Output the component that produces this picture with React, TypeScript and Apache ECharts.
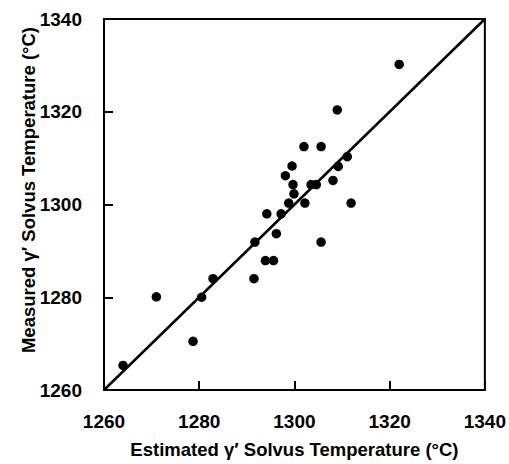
import React, { useEffect, useRef } from "react";
import * as echarts from "echarts";

const estimated = [1322, 1309, 1302, 1305.6, 1311.1, 1309.2, 1299.5, 1298.1, 1308.1, 1299.7, 1303.5, 1304.6, 1299.9, 1298.8, 1302.2, 1311.9, 1294.2, 1297.2, 1296.2, 1291.7, 1305.6, 1293.9, 1295.6, 1291.5, 1282.9, 1271, 1280.5, 1278.7, 1264];
const measured = [1330.2, 1320.4, 1312.5, 1312.5, 1310.3, 1308.2, 1308.3, 1306.2, 1305.2, 1304.3, 1304.3, 1304.3, 1302.3, 1300.3, 1300.3, 1300.3, 1298, 1298, 1293.7, 1291.9, 1291.9, 1287.9, 1287.9, 1284, 1284, 1280.1, 1280, 1270.5, 1265.3];
const fitLine = [[1260, 1260], [1340, 1340]];
const tickLabels = ["1260", "1280", "1300", "1320", "1340"];
const axisMin = 1260;
const axisMax = 1340;
const axisStep = 20;

const FONT = "Liberation Sans";

export default function App() {
  const ref = useRef<HTMLDivElement>(null);
  useEffect(() => {
    if (!ref.current) return;
    const chart = echarts.init(ref.current, null, { renderer: "svg" });
    const labelStyle = { color: "#000", fontFamily: FONT, fontWeight: 700, fontSize: 19 };
    const titleStyle = { color: "#000", fontFamily: FONT, fontWeight: 700, fontSize: 18.5 };
    const valueAxisBase = {
      type: "value", min: axisMin, max: axisMax, interval: axisStep,
      axisLine: { show: true, onZero: false, lineStyle: { color: "#000", width: 2 } },
      axisTick: { show: true, inside: true, length: 9, lineStyle: { color: "#000", width: 2 } },
      axisLabel: { show: false },
      splitLine: { show: false },
    };
    const labelAxisBase = {
      type: "category", data: tickLabels, boundaryGap: false,
      axisLine: { show: false }, axisTick: { show: false }, splitLine: { show: false },
      axisLabel: { ...labelStyle, margin: 22, interval: 0 },
    };
    chart.setOption({
      animation: false,
      backgroundColor: "#fff",
      grid: { left: 104, right: 23, top: 19, bottom: 74, show: true, borderColor: "#000", borderWidth: 2 },
      xAxis: [
        {
          ...valueAxisBase,
          name: "Estimated γ′ Solvus Temperature (°C)",
          nameLocation: "middle", nameGap: 50,
          nameTextStyle: { ...titleStyle },
        },
        { ...labelAxisBase, position: "bottom", offset: 0 },
      ],
      yAxis: [
        { ...valueAxisBase },
        { ...labelAxisBase, position: "left", offset: 0 },
      ],
      graphic: [
        {
          type: "text", x: 28, y: 190, rotation: Math.PI / 2,
          style: { text: "Measured γ′ Solvus Temperature (°C)", fill: "#000", fontFamily: FONT, fontWeight: 700, fontSize: 18.5, align: "center", verticalAlign: "middle" },
        },
      ],
      series: [
        {
          type: "line", data: fitLine, symbol: "none", xAxisIndex: 0, yAxisIndex: 0,
          lineStyle: { color: "#000", width: 2.5 }, silent: true,
        },
        {
          type: "scatter", data: estimated.map((x, i) => [x, measured[i]]), xAxisIndex: 0, yAxisIndex: 0,
          symbol: "circle", symbolSize: 9.5, itemStyle: { color: "#000", opacity: 1 },
        },
      ],
    });
    return () => chart.dispose();
  }, []);
  return <div ref={ref} style={{ width: 509, height: 464, position: "absolute", left: 0, top: 0 }} />;
}
